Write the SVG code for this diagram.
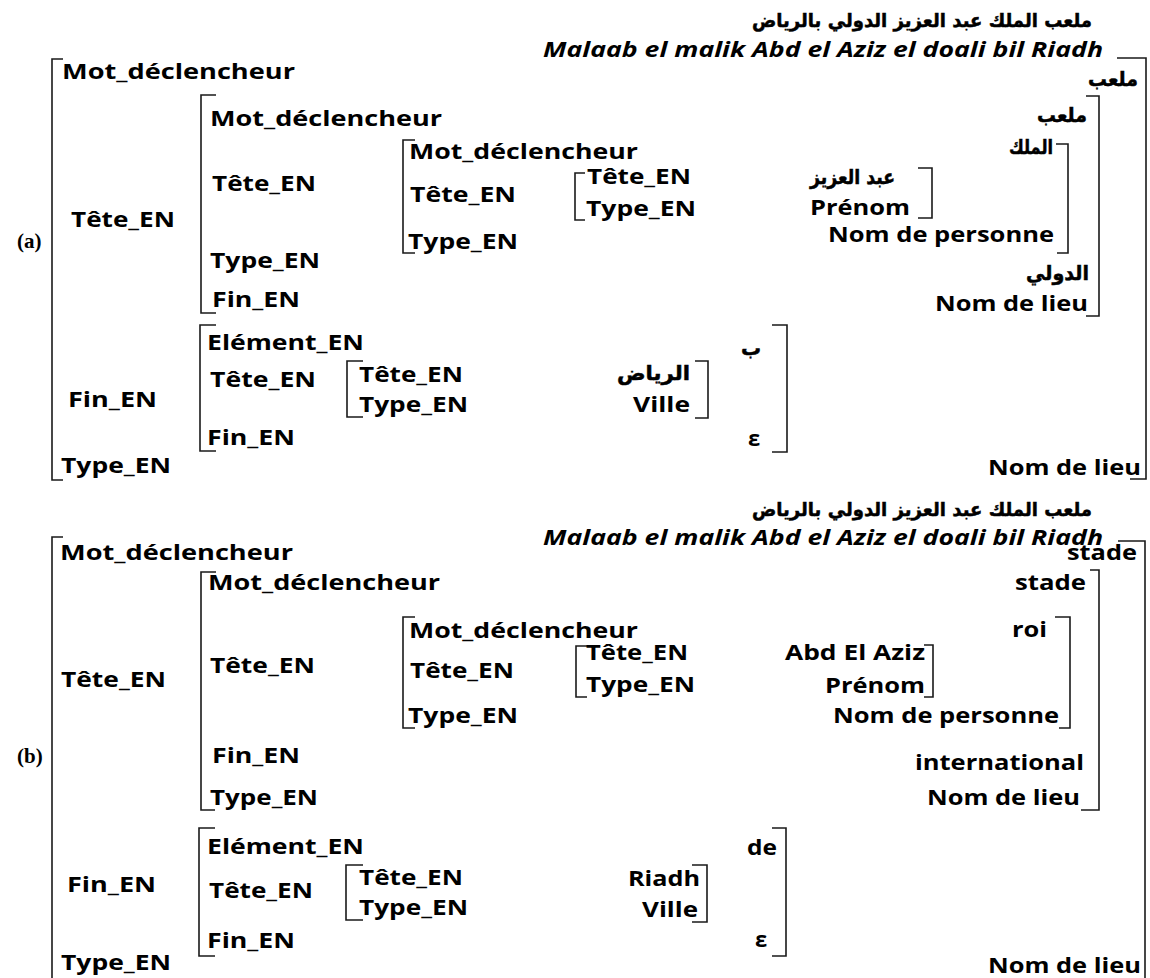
<svg xmlns="http://www.w3.org/2000/svg" width="1150" height="978" viewBox="0 0 1150 978">
<style>
.t{font-family:"Open Sans","Liberation Sans",sans-serif;font-weight:700;font-size:22px;fill:#000}
.it{font-style:italic}
.ar{font-family:"DejaVu Sans","Noto Sans",sans-serif;font-weight:700;font-size:20px;fill:#000;stroke:#000;stroke-width:0.5}
.ttl{font-size:19px}
.lab{font-family:"Liberation Serif",serif;font-weight:700;font-size:21px;fill:#000}
.br{fill:none;stroke:#1a1a1a;stroke-width:1.6}
</style>
<rect width="1150" height="978" fill="#fff"/>
<g id="connectors">
<path class="br" d="M63,59 H52 V480 H63"/>
<path class="br" d="M1117,58 H1146 V479 H1130"/>
<path class="br" d="M216,95 H201 V313 H216"/>
<path class="br" d="M1086,96 H1099 V316 H1086"/>
<path class="br" d="M415,140 H403 V253 H415"/>
<path class="br" d="M1056,144 H1068 V253 H1057"/>
<path class="br" d="M585,173 H575 V220 H585"/>
<path class="br" d="M918,168 H932 V218 H918"/>
<path class="br" d="M216,325 H200 V451 H216"/>
<path class="br" d="M772,325 H787 V452 H772"/>
<path class="br" d="M363,361 H347 V417 H363"/>
<path class="br" d="M695,361 H708 V418 H695"/>
<path class="br" d="M63,537 H52 V978"/>
<path class="br" d="M1118,541 H1145 V978"/>
<path class="br" d="M216,572 H201 V810 H215"/>
<path class="br" d="M1090,570 H1099 V810 H1081"/>
<path class="br" d="M415,617 H403 V728 H415"/>
<path class="br" d="M1055,617 H1070 V728 H1059"/>
<path class="br" d="M587,646 H576 V697 H587"/>
<path class="br" d="M924,645 H933 V697 H924"/>
<path class="br" d="M215,828 H199 V956 H215"/>
<path class="br" d="M772,828 H786 V956 H772"/>
<path class="br" d="M363,865 H346 V920 H363"/>
<path class="br" d="M692,865 H707 V922 H692"/>
</g>
<g id="part-a">
<g id="a-title"><text class="ar ttl" x="1092" y="27" text-anchor="end" textLength="340" lengthAdjust="spacingAndGlyphs">ملعب الملك عبد العزيز الدولي بالرياض</text></g>
<g id="a-translit"><text class="t it" x="543" y="57" textLength="560" lengthAdjust="spacingAndGlyphs">Malaab el malik Abd el Aziz el doali bil Riadh</text></g>
<g id="a-label"><text class="lab" x="17" y="248">(a)</text></g>
<g id="a-l1-mot"><text class="t" x="62" y="79" textLength="233" lengthAdjust="spacingAndGlyphs">Mot_déclencheur</text></g>
<g id="a-l1-tete"><text class="t" x="71" y="227" textLength="104" lengthAdjust="spacingAndGlyphs">Tête_EN</text></g>
<g id="a-l2-mot"><text class="t" x="210" y="126" textLength="232" lengthAdjust="spacingAndGlyphs">Mot_déclencheur</text></g>
<g id="a-l2-tete"><text class="t" x="212" y="191" textLength="104" lengthAdjust="spacingAndGlyphs">Tête_EN</text></g>
<g id="a-l2-type"><text class="t" x="210" y="268" textLength="110" lengthAdjust="spacingAndGlyphs">Type_EN</text></g>
<g id="a-l2-fin"><text class="t" x="212" y="307" textLength="88" lengthAdjust="spacingAndGlyphs">Fin_EN</text></g>
<g id="a-l3-mot"><text class="t" x="409" y="159" textLength="229" lengthAdjust="spacingAndGlyphs">Mot_déclencheur</text></g>
<g id="a-l3-tete"><text class="t" x="410" y="202" textLength="106" lengthAdjust="spacingAndGlyphs">Tête_EN</text></g>
<g id="a-l3-type"><text class="t" x="408" y="249" textLength="110" lengthAdjust="spacingAndGlyphs">Type_EN</text></g>
<g id="a-l4-tete"><text class="t" x="587" y="184" textLength="104" lengthAdjust="spacingAndGlyphs">Tête_EN</text></g>
<g id="a-l4-type"><text class="t" x="586" y="216" textLength="110" lengthAdjust="spacingAndGlyphs">Type_EN</text></g>
<g id="a-f-elem"><text class="t" x="207" y="350" textLength="157" lengthAdjust="spacingAndGlyphs">Elément_EN</text></g>
<g id="a-f-tete"><text class="t" x="210" y="387" textLength="106" lengthAdjust="spacingAndGlyphs">Tête_EN</text></g>
<g id="a-f-fin"><text class="t" x="207" y="445" textLength="88" lengthAdjust="spacingAndGlyphs">Fin_EN</text></g>
<g id="a-fi-tete"><text class="t" x="359" y="382" textLength="104" lengthAdjust="spacingAndGlyphs">Tête_EN</text></g>
<g id="a-fi-type"><text class="t" x="359" y="412" textLength="109" lengthAdjust="spacingAndGlyphs">Type_EN</text></g>
<g id="a-l1-fin"><text class="t" x="68" y="407" textLength="89" lengthAdjust="spacingAndGlyphs">Fin_EN</text></g>
<g id="a-l1-type"><text class="t" x="61" y="473" textLength="110" lengthAdjust="spacingAndGlyphs">Type_EN</text></g>
<g id="a-v-malaab1"><text class="ar" x="1138" y="86" text-anchor="end" textLength="50" lengthAdjust="spacingAndGlyphs">ملعب</text></g>
<g id="a-v-malaab2"><text class="ar" x="1087" y="122" text-anchor="end" textLength="50" lengthAdjust="spacingAndGlyphs">ملعب</text></g>
<g id="a-v-malik"><text class="ar" x="1053" y="154" text-anchor="end" textLength="44" lengthAdjust="spacingAndGlyphs">الملك</text></g>
<g id="a-v-abdelaziz"><text class="ar" x="895" y="184" text-anchor="end" textLength="85" lengthAdjust="spacingAndGlyphs">عبد العزيز</text></g>
<g id="a-v-prenom"><text class="t" x="810" y="215" textLength="100" lengthAdjust="spacingAndGlyphs">Prénom</text></g>
<g id="a-v-nompers"><text class="t" x="828" y="242" textLength="226" lengthAdjust="spacingAndGlyphs">Nom de personne</text></g>
<g id="a-v-dawli"><text class="ar" x="1089" y="280" text-anchor="end" textLength="63" lengthAdjust="spacingAndGlyphs">الدولي</text></g>
<g id="a-v-lieu1"><text class="t" x="935" y="311" textLength="153" lengthAdjust="spacingAndGlyphs">Nom de lieu</text></g>
<g id="a-v-riyad"><text class="ar" x="690" y="380" text-anchor="end" textLength="73" lengthAdjust="spacingAndGlyphs">الرياض</text></g>
<g id="a-v-ville"><text class="t" x="633" y="412" textLength="57" lengthAdjust="spacingAndGlyphs">Ville</text></g>
<g id="a-v-bi"><text class="ar" x="761" y="355" text-anchor="end">ب</text></g>
<g id="a-v-eps"><text class="t" x="748" y="446">ε</text></g>
<g id="a-v-lieu2"><text class="t" x="988" y="475" textLength="153" lengthAdjust="spacingAndGlyphs">Nom de lieu</text></g>
</g>
<g id="part-b">
<g id="b-title"><text class="ar ttl" x="1092" y="516" text-anchor="end" textLength="340" lengthAdjust="spacingAndGlyphs">ملعب الملك عبد العزيز الدولي بالرياض</text></g>
<g id="b-translit"><text class="t it" x="543" y="545" textLength="560" lengthAdjust="spacingAndGlyphs">Malaab el malik Abd el Aziz el doali bil Riadh</text></g>
<g id="b-label"><text class="lab" x="17" y="763">(b)</text></g>
<g id="b-l1-mot"><text class="t" x="60" y="560" textLength="233" lengthAdjust="spacingAndGlyphs">Mot_déclencheur</text></g>
<g id="b-l1-tete"><text class="t" x="61" y="687" textLength="105" lengthAdjust="spacingAndGlyphs">Tête_EN</text></g>
<g id="b-l2-mot"><text class="t" x="208" y="590" textLength="232" lengthAdjust="spacingAndGlyphs">Mot_déclencheur</text></g>
<g id="b-l2-tete"><text class="t" x="210" y="673" textLength="105" lengthAdjust="spacingAndGlyphs">Tête_EN</text></g>
<g id="b-l2-fin"><text class="t" x="212" y="763" textLength="88" lengthAdjust="spacingAndGlyphs">Fin_EN</text></g>
<g id="b-l2-type"><text class="t" x="210" y="805" textLength="108" lengthAdjust="spacingAndGlyphs">Type_EN</text></g>
<g id="b-l3-mot"><text class="t" x="409" y="638" textLength="229" lengthAdjust="spacingAndGlyphs">Mot_déclencheur</text></g>
<g id="b-l3-tete"><text class="t" x="410" y="678" textLength="104" lengthAdjust="spacingAndGlyphs">Tête_EN</text></g>
<g id="b-l3-type"><text class="t" x="408" y="723" textLength="110" lengthAdjust="spacingAndGlyphs">Type_EN</text></g>
<g id="b-l4-tete"><text class="t" x="586" y="660" textLength="102" lengthAdjust="spacingAndGlyphs">Tête_EN</text></g>
<g id="b-l4-type"><text class="t" x="586" y="692" textLength="109" lengthAdjust="spacingAndGlyphs">Type_EN</text></g>
<g id="b-f-elem"><text class="t" x="207" y="854" textLength="157" lengthAdjust="spacingAndGlyphs">Elément_EN</text></g>
<g id="b-f-tete"><text class="t" x="209" y="898" textLength="104" lengthAdjust="spacingAndGlyphs">Tête_EN</text></g>
<g id="b-f-fin"><text class="t" x="207" y="948" textLength="88" lengthAdjust="spacingAndGlyphs">Fin_EN</text></g>
<g id="b-fi-tete"><text class="t" x="359" y="885" textLength="104" lengthAdjust="spacingAndGlyphs">Tête_EN</text></g>
<g id="b-fi-type"><text class="t" x="359" y="915" textLength="109" lengthAdjust="spacingAndGlyphs">Type_EN</text></g>
<g id="b-l1-fin"><text class="t" x="67" y="892" textLength="89" lengthAdjust="spacingAndGlyphs">Fin_EN</text></g>
<g id="b-l1-type"><text class="t" x="61" y="970" textLength="110" lengthAdjust="spacingAndGlyphs">Type_EN</text></g>
<g id="b-v-stade1"><text class="t" x="1067" y="560" textLength="70" lengthAdjust="spacingAndGlyphs">stade</text></g>
<g id="b-v-stade2"><text class="t" x="1015" y="590" textLength="71" lengthAdjust="spacingAndGlyphs">stade</text></g>
<g id="b-v-roi"><text class="t" x="1012" y="637" textLength="35" lengthAdjust="spacingAndGlyphs">roi</text></g>
<g id="b-v-abdelaziz"><text class="t" x="785" y="660" textLength="140" lengthAdjust="spacingAndGlyphs">Abd El Aziz</text></g>
<g id="b-v-prenom"><text class="t" x="825" y="693" textLength="100" lengthAdjust="spacingAndGlyphs">Prénom</text></g>
<g id="b-v-nompers"><text class="t" x="833" y="723" textLength="226" lengthAdjust="spacingAndGlyphs">Nom de personne</text></g>
<g id="b-v-intl"><text class="t" x="915" y="770" textLength="169" lengthAdjust="spacingAndGlyphs">international</text></g>
<g id="b-v-lieu1"><text class="t" x="927" y="805" textLength="153" lengthAdjust="spacingAndGlyphs">Nom de lieu</text></g>
<g id="b-v-de"><text class="t" x="747" y="855" textLength="30" lengthAdjust="spacingAndGlyphs">de</text></g>
<g id="b-v-riadh"><text class="t" x="628" y="886" textLength="72" lengthAdjust="spacingAndGlyphs">Riadh</text></g>
<g id="b-v-ville"><text class="t" x="642" y="917" textLength="56" lengthAdjust="spacingAndGlyphs">Ville</text></g>
<g id="b-v-eps"><text class="t" x="755" y="947">ε</text></g>
<g id="b-v-lieu2"><text class="t" x="988" y="973" textLength="153" lengthAdjust="spacingAndGlyphs">Nom de lieu</text></g>
</g>
</svg>
